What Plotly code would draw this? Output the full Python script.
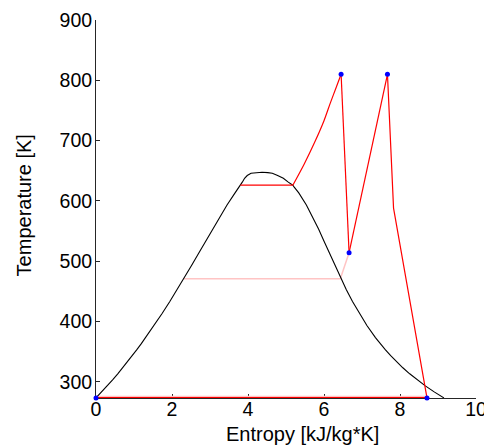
import plotly.graph_objects as go

# Saturation dome of water (T in K, s in kJ/kg*K)
dome_T = [273.16, 283.15, 293.15, 303.15, 313.15, 323.15, 333.15, 343.15, 353.15, 363.15,
          373.15, 393.15, 413.15, 433.15, 453.15, 473.15, 493.15, 513.15, 533.15, 553.15,
          573.15, 593.15, 613.15, 623.15, 626, 631, 637.4, 642, 645.7, 646.9, 647.4]
s_liq = [0.0, 0.151, 0.2966, 0.4369, 0.5725, 0.7038, 0.8312, 0.9549, 1.0753, 1.1925,
         1.3069, 1.5276, 1.7391, 1.9427, 2.1396, 2.3309, 2.5178, 2.7015, 2.8838, 3.0668,
         3.2534, 3.4480, 3.6594, 3.7777, 3.80, 3.85, 3.91, 3.98, 4.08, 4.20, 4.37]
s_vap = [9.156, 8.900, 8.666, 8.452, 8.255, 8.075, 7.909, 7.755, 7.612, 7.479,
         7.354, 7.129, 6.929, 6.750, 6.585, 6.430, 6.283, 6.143, 6.001, 5.857,
         5.704, 5.536, 5.336, 5.211, 5.18, 5.06, 4.93, 4.78, 4.64, 4.52, 4.37]

# Cycle (red)
boil_s = [3.80, 5.18]
boil_T = [626, 626]
superheat_s = [5.18, 5.47, 5.76, 6.00, 6.17, 6.32, 6.45]
superheat_T = [626, 660, 698, 733, 763, 788, 810]
hp_turbine_s = [6.45, 6.66]
hp_turbine_T = [810, 514]
reheat_s = [6.66, 6.93, 7.25, 7.67]
reheat_T = [514, 592, 688, 810]
lp_turbine_s = [7.67, 7.83, 8.71]
lp_turbine_T = [810, 588, 273.16]
condense_s = [0.0, 8.71]
condense_T = [273.16, 273.16]

# Extraction (pink)
extract_s = [2.31, 6.43, 6.66]
extract_T = [471, 471, 514]

# State points (blue)
pts_s = [0.0, 6.45, 6.66, 7.67, 8.71]
pts_T = [273.16, 810, 514, 810, 273.16]

x_ticks = [0, 2, 4, 6, 8, 10]
y_ticks = [300, 400, 500, 600, 700, 800, 900]

RED = "#ff0000"
PINK = "#ffc4c4"
FONT = "Liberation Sans, Arial, sans-serif"

fig = go.Figure()
fig.add_trace(go.Scatter(x=condense_s, y=condense_T, mode="lines",
                         line=dict(color=PINK, width=4.5)))
fig.add_trace(go.Scatter(x=extract_s, y=extract_T, mode="lines",
                         line=dict(color=PINK, width=1.5)))
fig.add_trace(go.Scatter(x=s_liq + s_vap[::-1], y=dome_T + dome_T[::-1], mode="lines",
                         line=dict(color="#000000", width=1.1)))
fig.add_trace(go.Scatter(x=superheat_s, y=superheat_T, mode="lines",
                         line=dict(color=RED, width=1.2, shape="spline", smoothing=0.8)))
for xs, ys in [(boil_s, boil_T), (hp_turbine_s, hp_turbine_T),
               (reheat_s, reheat_T), (lp_turbine_s, lp_turbine_T)]:
    fig.add_trace(go.Scatter(x=xs, y=ys, mode="lines", line=dict(color=RED, width=1.2)))
fig.add_trace(go.Scatter(x=condense_s, y=condense_T, mode="lines",
                         line=dict(color=RED, width=2)))
fig.add_trace(go.Scatter(x=pts_s, y=pts_T, mode="markers", cliponaxis=False,
                         marker=dict(color="#0000ff", size=5, line=dict(width=0))))

axis_common = dict(showgrid=False, zeroline=False, showline=True, linecolor="#262626",
                   linewidth=1, ticks="inside", ticklen=4, tickwidth=1, tickcolor="#262626",
                   tickfont=dict(family=FONT, size=19.5, color="#000"),
                   layer="below traces", mirror=False, automargin=False)

fig.update_layout(
    width=484, height=438,
    margin=dict(l=88, r=16, t=12, b=48, pad=0),
    paper_bgcolor="white", plot_bgcolor="white",
    showlegend=False,
    xaxis=dict(range=[0, 10], tickvals=x_ticks, ticktext=[str(v) for v in x_ticks],
               ticklabelstandoff=-6, **axis_common),
    yaxis=dict(range=[273, 900], tickvals=y_ticks, ticktext=[str(v) for v in y_ticks],
               ticklabelstandoff=-1, **axis_common),
    annotations=[
        dict(text="Entropy [kJ/kg*K]", xref="paper", yref="paper", x=0.544, y=-0.095,
             xanchor="center", yanchor="middle", showarrow=False,
             font=dict(family=FONT, size=20, color="#000")),
        dict(text="Temperature [K]", xref="paper", yref="paper", x=-0.19, y=0.509,
             xanchor="center", yanchor="middle", showarrow=False, textangle=-90,
             font=dict(family=FONT, size=20, color="#000")),
    ],
)

fig.write_html("out.html")
